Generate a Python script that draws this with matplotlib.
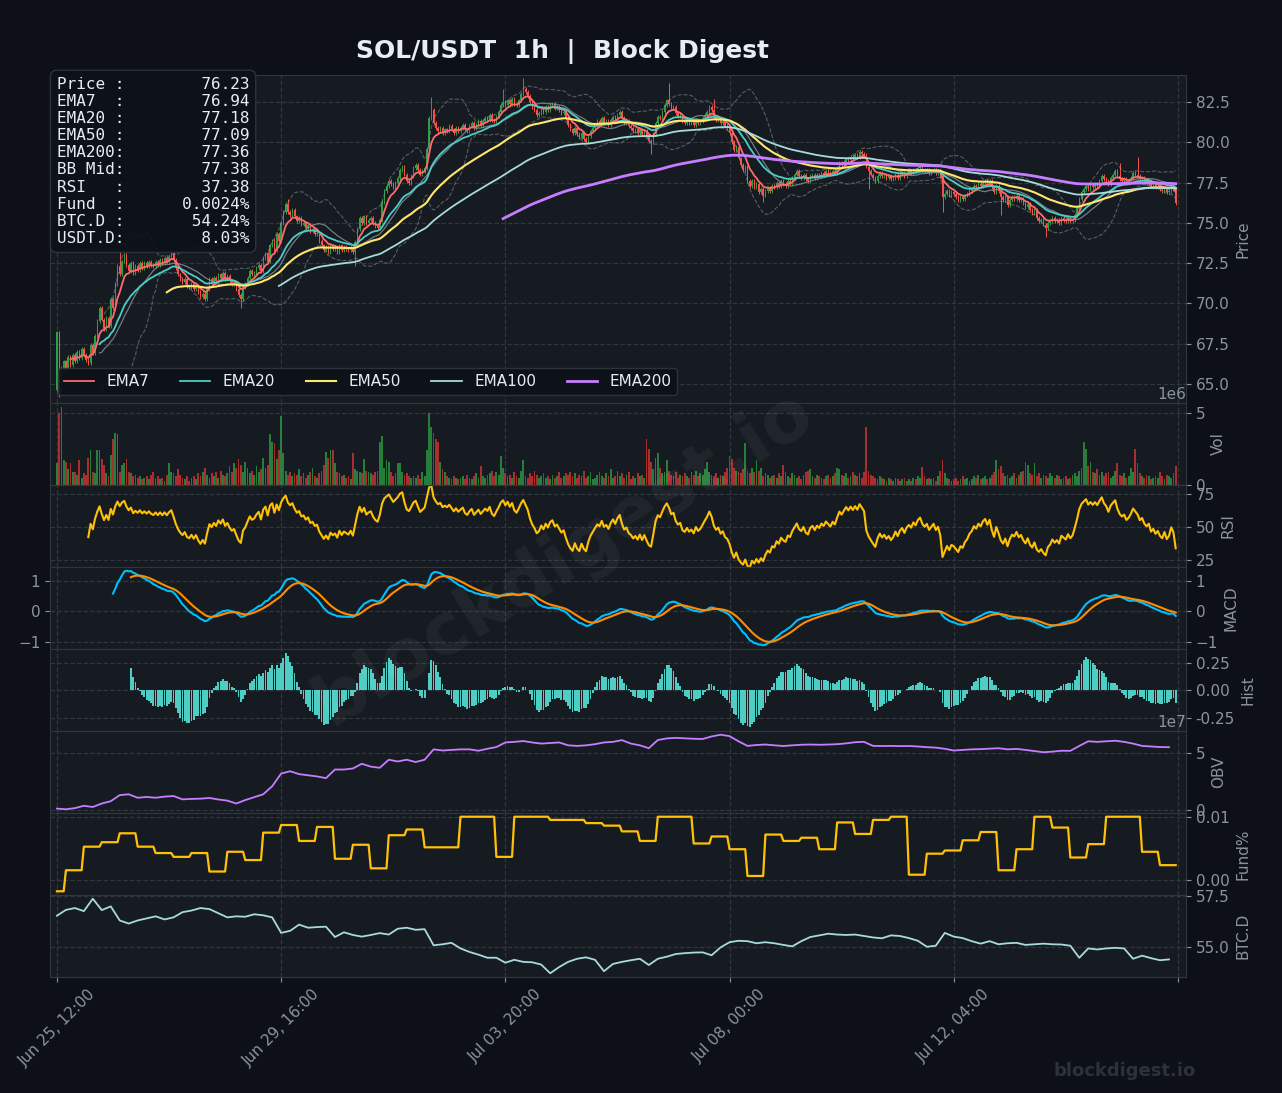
import numpy as np
import pandas as pd
import matplotlib
matplotlib.use("Agg")
import matplotlib.pyplot as plt

# ---- data (hourly SOL/USDT) ----
start_time = "2025-06-25 12:00"
first_open = 64.6
closes = [
    68.2, 64.6, 66.0, 66.4, 66.0, 66.7, 66.2, 66.8, 66.4, 67.0,
    66.6, 67.2, 66.8, 66.5, 66.3, 67.4, 66.9, 68.0, 68.9, 69.7,
    69.0, 68.4, 69.1, 68.6, 70.3, 69.7, 71.2, 72.3, 71.8, 72.6,
    73.0, 72.4, 72.0, 72.5, 71.9, 72.3, 72.1, 72.5, 72.2, 72.5,
    72.3, 72.6, 72.4, 72.3, 72.6, 72.4, 72.7, 72.5, 72.8, 72.6,
    72.9, 73.1, 72.7, 72.2, 71.8, 71.5, 71.3, 71.5, 71.1, 71.0,
    71.2, 70.9, 71.1, 70.7, 70.4, 70.6, 70.3, 70.9, 71.5, 71.3,
    71.6, 71.4, 71.8, 71.6, 71.9, 71.5, 71.7, 71.4, 71.2, 71.3,
    70.9, 70.5, 70.3, 71.0, 71.2, 71.6, 72.0, 71.8, 71.9, 72.2,
    72.4, 72.0, 72.8, 73.1, 72.6, 73.6, 73.9, 73.3, 74.3, 73.9,
    75.0, 75.7, 76.2, 75.7, 75.5, 75.8, 75.4, 75.1, 75.3, 74.9,
    75.0, 74.7, 74.9, 74.5, 74.6, 74.3, 74.4, 73.9, 73.6, 73.3,
    73.5, 73.2, 73.6, 73.4, 73.5, 73.2, 73.6, 73.3, 73.5, 73.4,
    73.3, 73.5, 73.2, 73.8, 74.6, 75.3, 75.0, 75.4, 75.0, 75.2,
    75.3, 75.0, 74.8, 74.7, 75.2, 76.3, 77.0, 77.3, 77.6, 77.4,
    77.2, 77.5, 77.8, 78.3, 78.5, 78.0, 77.6, 77.5, 77.9, 78.4,
    78.6, 78.3, 78.0, 78.2, 78.4, 79.6, 81.5, 82.0, 81.2, 80.9,
    80.7, 80.9, 80.6, 80.8, 80.7, 81.0, 80.8, 80.6, 80.9, 80.7,
    80.9, 81.1, 80.8, 80.7, 81.0, 81.2, 80.9, 81.1, 81.3, 81.1,
    81.3, 81.5, 81.4, 81.7, 81.4, 81.3, 81.6, 81.9, 82.3, 82.5,
    82.3, 82.6, 82.4, 82.7, 82.4, 82.3, 82.6, 83.0, 83.3, 83.1,
    82.9, 82.5, 82.2, 82.0, 81.7, 81.8, 82.1, 81.9, 82.2, 82.0,
    82.3, 82.4, 82.1, 82.2, 82.0, 81.8, 81.9, 81.5, 81.1, 80.8,
    80.6, 80.9, 80.5, 80.3, 80.6, 80.2, 80.0, 80.4, 80.7, 80.9,
    81.1, 81.3, 81.2, 81.5, 81.2, 81.3, 81.1, 81.4, 81.6, 81.4,
    81.7, 81.9, 81.5, 81.2, 81.3, 81.0, 80.9, 80.7, 80.8, 80.6,
    80.8, 80.5, 80.7, 80.4, 80.1, 80.0, 80.5, 81.2, 81.6, 81.5,
    81.9, 82.3, 82.6, 82.4, 82.1, 82.2, 81.8, 81.6, 81.7, 81.3,
    81.2, 81.4, 81.2, 81.3, 81.1, 81.4, 81.2, 81.3, 81.5, 81.7,
    81.9, 82.2, 82.0, 81.6, 81.4, 81.5, 81.2, 81.3, 81.0, 80.9,
    80.6, 80.0, 79.5, 79.7, 79.0, 78.6, 78.3, 78.5, 77.6, 77.3,
    77.6, 77.2, 77.4, 76.9, 77.1, 76.7, 77.0, 77.2, 77.0, 77.3,
    77.2, 77.5, 77.3, 77.6, 77.4, 77.3, 77.6, 77.5, 77.8, 78.0,
    78.2, 77.9, 77.8, 78.0, 77.7, 77.6, 77.9, 78.0, 77.8, 78.0,
    77.9, 78.1, 78.0, 78.2, 78.1, 78.0, 78.2, 78.1, 78.4, 78.7,
    78.6, 78.8, 79.0, 78.9, 79.1, 79.0, 79.2, 79.1, 79.4, 79.3,
    79.2, 78.5, 78.2, 78.0, 77.8, 77.6, 77.9, 78.1, 77.9, 78.0,
    77.8, 77.9, 77.7, 77.8, 78.0, 77.8, 78.0, 78.1, 77.9, 78.1,
    78.2, 78.1, 78.3, 78.2, 78.4, 78.5, 78.3, 78.2, 78.3, 78.1,
    78.2, 78.3, 78.1, 78.2, 77.9, 76.6, 76.8, 77.0, 76.7, 76.9,
    76.8, 76.6, 76.4, 76.6, 76.5, 76.7, 76.8, 77.0, 77.1, 77.3,
    77.2, 77.4, 77.3, 77.5, 77.6, 77.4, 77.6, 77.2, 76.9, 77.3,
    77.0, 76.6, 76.4, 76.6, 76.1, 76.4, 76.6, 76.5, 76.7, 76.4,
    76.5, 76.2, 76.0, 76.2, 75.8, 75.6, 75.8, 75.3, 75.1, 75.2,
    74.9, 74.7, 75.0, 75.1, 75.3, 75.1, 75.2, 75.0, 75.3, 75.2,
    75.1, 75.3, 75.1, 75.2, 75.5, 75.9, 76.5, 76.9, 77.1, 77.3,
    77.1, 77.3, 77.2, 77.4, 77.3, 77.6, 77.9, 77.7, 77.6, 77.4,
    77.8, 78.0, 78.2, 77.9, 77.7, 77.6, 77.7, 77.5, 77.6, 77.8,
    78.1, 78.0, 77.9, 77.7, 77.8, 77.6, 77.5, 77.6, 77.3, 77.4,
    77.2, 77.3, 77.1, 77.0, 77.2, 76.9, 77.0, 77.3, 77.1, 76.23,
]
# notable wick extremes (index: price)
wick_highs = {28: 73.3, 103: 76.5, 167: 82.8, 199: 83.3, 208: 84.0, 273: 83.7, 293: 82.7, 474: 78.7, 482: 79.1}
wick_lows = {1: 64.2, 82: 69.7, 133: 72.3, 236: 79.9, 265: 79.3, 315: 76.3, 362: 77.1, 395: 75.7, 421: 75.5, 441: 74.1}

# volume in millions
volume_m = [
    1.5, 5.0, 5.4, 1.7, 1.6, 1.1, 1.5, 0.9, 0.9, 0.7,
    1.7, 0.5, 0.8, 0.7, 1.9, 2.4, 0.9, 0.8, 2.4, 2.45,
    1.8, 1.4, 0.8, 0.6, 2.1, 3.2, 3.6, 3.5, 0.9, 1.4,
    1.5, 1.8, 0.9, 0.8, 0.6, 0.7, 0.5, 0.6, 0.4, 0.5,
    0.6, 0.4, 0.7, 0.9, 0.5, 0.6, 0.4, 0.5, 0.3, 0.7,
    1.5, 0.9, 0.8, 0.6, 1.1, 0.7, 0.5, 0.4, 0.6, 0.3,
    0.5, 0.6, 0.4, 0.8, 0.6, 0.9, 1.2, 0.7, 0.5, 0.8,
    0.6, 0.9, 0.5, 1.0, 0.7, 0.6, 0.8, 1.3, 0.9, 1.5,
    1.2, 1.8, 1.4, 0.9, 1.6, 1.2, 0.8, 1.0, 0.7, 1.3,
    0.9, 1.1, 1.9, 1.2, 1.4, 3.5, 3.0, 2.9, 1.8, 2.4,
    4.75, 2.2, 1.0, 0.7, 0.9, 0.6, 0.8, 0.7, 1.1, 0.6,
    0.8, 0.5, 0.7, 0.9, 1.2, 0.6, 0.5, 0.8, 1.0, 1.4,
    2.3, 1.9, 2.4, 2.4, 1.5, 0.9, 0.8, 0.6, 0.7, 0.5,
    0.6, 0.4, 2.2, 1.1, 1.0, 0.9, 0.8, 1.8, 1.0, 0.9,
    0.8, 0.7, 0.9, 1.0, 3.0, 3.4, 1.2, 1.75, 1.6, 0.9,
    0.6, 0.8, 1.5, 1.5, 0.9, 0.7, 0.8, 0.6, 0.5, 0.6,
    0.5, 0.7, 0.4, 0.9, 0.6, 2.4, 5.0, 4.0, 3.6, 3.2,
    3.0, 1.6, 1.1, 0.9, 0.6, 0.5, 0.4, 0.6, 0.5, 0.4,
    0.5, 0.6, 0.4, 0.7, 0.5, 0.4, 0.6, 0.8, 0.5, 1.3,
    0.6, 0.5, 0.7, 0.8, 1.0, 0.6, 0.9, 0.7, 2.0, 1.2,
    0.8, 0.6, 0.7, 0.5, 0.9, 0.6, 0.5, 1.0, 1.7, 0.6,
    0.5, 0.8, 0.6, 1.0, 0.7, 0.5, 0.6, 0.8, 0.5, 0.6,
    0.4, 0.7, 0.5, 0.6, 0.9, 0.5, 0.6, 0.8, 0.7, 0.9,
    0.6, 0.8, 0.5, 0.7, 0.6, 1.0, 0.5, 0.6, 0.9, 0.4,
    0.5, 0.7, 0.9, 0.6, 0.5, 0.8, 0.6, 1.1, 0.5, 0.6,
    1.0, 0.6, 0.8, 0.5, 0.7, 0.9, 0.4, 0.6, 0.5, 0.8,
    0.6, 0.7, 0.5, 3.2, 2.5, 1.6, 1.1, 1.9, 2.2, 1.2,
    0.8, 0.9, 1.75, 1.0, 0.7, 0.6, 0.9, 0.5, 0.7, 0.6,
    0.8, 0.6, 0.5, 0.9, 0.7, 1.0, 0.6, 0.8, 0.7, 1.1,
    1.6, 0.9, 0.7, 0.6, 0.8, 0.5, 0.7, 0.6, 0.9, 1.2,
    2.0, 1.8, 1.2, 1.0, 0.9, 0.8, 1.1, 2.9, 1.0, 0.8,
    1.2, 0.9, 1.75, 1.0, 1.2, 0.6, 0.8, 0.7, 0.5, 0.6,
    0.7, 0.5, 0.8, 0.6, 1.4, 0.9, 0.6, 0.5, 0.8, 0.7,
    0.5, 0.6, 0.4, 0.7, 0.9, 1.0, 1.1, 0.6, 0.5, 0.7,
    0.6, 0.5, 0.4, 0.6, 0.7, 0.5, 0.6, 0.8, 1.2, 1.1,
    0.7, 0.6, 0.8, 0.5, 0.6, 0.9, 0.7, 0.6, 0.8, 0.5,
    0.9, 4.0, 1.0, 0.7, 0.6, 0.5, 0.4, 0.6, 0.5, 0.4,
    0.3, 0.5, 0.4, 0.3, 0.5, 0.4, 0.3, 0.4, 0.5, 0.3,
    0.4, 0.3, 0.5, 0.4, 0.6, 0.5, 1.25, 0.6, 0.4, 0.5,
    0.4, 0.5, 0.3, 0.6, 1.0, 1.75, 0.8, 0.5, 0.4, 0.3,
    0.4, 0.5, 0.3, 0.4, 0.6, 0.4, 0.5, 0.3, 0.4, 0.6,
    0.5, 0.7, 0.4, 0.5, 0.6, 0.4, 0.5, 0.7, 0.9, 1.75,
    1.1, 1.3, 0.8, 0.6, 0.7, 0.5, 0.6, 0.8, 0.5, 0.7,
    0.9, 1.0, 1.6, 1.4, 0.8, 0.7, 1.5, 0.6, 0.8, 0.5,
    0.7, 0.6, 0.5, 0.8, 0.6, 0.5, 0.7, 0.6, 0.4, 0.5,
    0.6, 0.4, 0.5, 0.7, 0.8, 0.6, 1.0, 1.2, 3.0, 2.5,
    1.3, 1.6, 0.9, 0.8, 1.1, 0.7, 0.9, 0.6, 0.8, 0.9,
    0.5, 0.6, 1.0, 1.5, 0.7, 0.6, 0.8, 0.5, 0.6, 1.2,
    0.9, 2.5, 1.5, 0.8, 0.6, 0.5, 0.7, 0.6, 0.4, 0.5,
    0.6, 0.5, 0.9, 0.6, 0.4, 0.7, 0.6, 0.5, 0.8, 1.3,
]

# OBV (x1e7) every 4 hours
obv_4h = [
    0.16, 0.10, 0.20, 0.40, 0.30, 0.60, 0.80, 1.33, 1.40, 1.10,
    1.17, 1.10, 1.20, 1.25, 0.96, 1.00, 1.02, 1.08, 0.95, 0.85,
    0.60, 0.90, 1.15, 1.40, 2.10, 3.20, 3.40, 3.15, 3.05, 2.95,
    2.80, 3.55, 3.55, 3.64, 4.05, 3.80, 3.70, 4.40, 4.25, 4.40,
    4.20, 4.40, 5.30, 5.20, 5.25, 5.30, 5.30, 5.18, 5.35, 5.50,
    5.90, 5.95, 6.02, 5.90, 5.80, 5.85, 5.90, 5.65, 5.60, 5.65,
    5.75, 5.90, 5.95, 6.10, 5.80, 5.65, 5.40, 6.11, 6.25, 6.30,
    6.26, 6.22, 6.20, 6.42, 6.57, 6.45, 6.00, 5.60, 5.68, 5.72,
    5.65, 5.59, 5.65, 5.70, 5.72, 5.70, 5.72, 5.75, 5.82, 5.92,
    5.95, 5.60, 5.59, 5.60, 5.58, 5.59, 5.55, 5.49, 5.45, 5.35,
    5.20, 5.25, 5.30, 5.32, 5.36, 5.40, 5.30, 5.34, 5.25, 5.15,
    5.05, 5.10, 5.18, 5.17, 5.60, 6.00, 5.95, 6.00, 6.05, 5.95,
    5.80, 5.60, 5.55, 5.50, 5.49,
]

# BTC dominance (%) every 4 hours
btcd_4h = [
    56.53, 56.81, 56.90, 56.75, 57.35, 56.80, 56.98, 56.30, 56.15, 56.30,
    56.40, 56.50, 56.35, 56.45, 56.70, 56.78, 56.90, 56.85, 56.65, 56.45,
    56.50, 56.48, 56.60, 56.55, 56.45, 55.70, 55.80, 56.10, 55.95, 55.98,
    56.00, 55.50, 55.73, 55.60, 55.52, 55.60, 55.69, 55.62, 55.90, 55.95,
    55.85, 55.88, 55.10, 55.15, 55.22, 54.95, 54.78, 54.65, 54.50, 54.50,
    54.26, 54.40, 54.30, 54.28, 54.17, 53.75, 54.05, 54.30, 54.45, 54.52,
    54.40, 53.85, 54.20, 54.30, 54.38, 54.45, 54.15, 54.45, 54.55, 54.68,
    54.72, 54.75, 54.76, 54.62, 55.00, 55.25, 55.32, 55.30, 55.20, 55.25,
    55.20, 55.12, 55.05, 55.30, 55.50, 55.58, 55.66, 55.62, 55.60, 55.62,
    55.55, 55.48, 55.44, 55.58, 55.55, 55.45, 55.32, 55.03, 55.08, 55.70,
    55.52, 55.45, 55.30, 55.18, 55.30, 55.15, 55.20, 55.22, 55.12, 55.15,
    55.18, 55.15, 55.14, 55.08, 54.50, 54.95, 54.90, 54.95, 54.98, 54.95,
    54.45, 54.60, 54.48, 54.38, 54.42,
]

# funding rate (%) per 8h period, first period is 4h long
funding_8h = [
    -0.0017, 0.0016, 0.0053, 0.0060, 0.0074, 0.0053, 0.0043, 0.0037, 0.0043, 0.0014,
    0.0045, 0.0032, 0.0075, 0.0087, 0.0062, 0.0084, 0.0034, 0.0056, 0.0019, 0.0071,
    0.0080, 0.0052, 0.0052, 0.0100, 0.0100, 0.0037, 0.0100, 0.0100, 0.0095, 0.0095,
    0.0090, 0.0086, 0.0077, 0.0062, 0.0100, 0.0100, 0.0058, 0.0069, 0.0049, 0.0007,
    0.0072, 0.0062, 0.0067, 0.0049, 0.0091, 0.0073, 0.0095, 0.0100, 0.0009, 0.0042,
    0.0047, 0.0063, 0.0076, 0.0016, 0.0049, 0.0100, 0.0083, 0.0036, 0.0057, 0.0100,
    0.0100, 0.0045, 0.0024,
]

info_labels = ["Price :", "EMA7  :", "EMA20 :", "EMA50 :", "EMA200:", "BB Mid:",
               "RSI   :", "Fund  :", "BTC.D :", "USDT.D:"]
info_values = ["76.23", "76.94", "77.18", "77.09", "77.36", "77.38",
               "37.38", "0.0024%", "54.24%", "8.03%"]

# ---- colours ----
BG = "#0d1117"
PANEL = "#161b22"
EDGE = "#30363d"
MUTED = "#8b949e"
TXT = "#e6edf3"
UP = "#2ea043"
DOWN = "#f85149"

# ---- indicators ----
n = len(closes)
x = np.arange(n)
dates = pd.date_range(start_time, periods=n, freq="h")
close = pd.Series(closes, dtype=float)
opn = close.shift(1).fillna(first_open)
hi = np.maximum(opn, close) + 0.12
lo = np.minimum(opn, close) - 0.12
for k, v in wick_highs.items():
    hi[k] = v
for k, v in wick_lows.items():
    lo[k] = v
up = (close >= opn).values


def ema(s, span):
    return s.ewm(span=span, adjust=False, min_periods=span).mean()


emas = {p: ema(close, p) for p in (7, 20, 50, 100, 200)}
bb_mid = close.rolling(20).mean()
bb_std = close.rolling(20).std()
bb_up = bb_mid + 2 * bb_std
bb_lo = bb_mid - 2 * bb_std

delta = close.diff()
gain = delta.clip(lower=0).ewm(com=13, min_periods=14).mean()
loss = (-delta.clip(upper=0)).ewm(com=13, min_periods=14).mean()
rsi = 100 - 100 / (1 + gain / loss)

macd = ema(close, 12) - ema(close, 26)
signal = macd.ewm(span=9, adjust=False, min_periods=9).mean()
hist = macd - signal

vol = np.array(volume_m) * 1e6
x4 = np.arange(0, n, 4)[:len(obv_4h)]
obv = np.array(obv_4h) * 1e7
btcd = np.array(btcd_4h)
fund = np.concatenate([[funding_8h[0]] * 4, np.repeat(funding_8h[1:], 8)])[:n]

# ---- figure ----
fig = plt.figure(figsize=(12.82, 10.93), dpi=100, facecolor=BG)
gs = fig.add_gridspec(8, 1, height_ratios=[4, 1, 1, 1, 1, 1, 1, 1],
                      left=50 / 1282, right=1186 / 1282,
                      top=1 - 75 / 1093, bottom=1 - 977 / 1093, hspace=0)
axes = [fig.add_subplot(gs[0])]
for i in range(1, 8):
    axes.append(fig.add_subplot(gs[i], sharex=axes[0]))
ax_p, ax_v, ax_r, ax_m, ax_h, ax_o, ax_f, ax_b = axes

for ax in axes:
    ax.set_facecolor(PANEL)
    for s in ax.spines.values():
        s.set_color(EDGE)
    ax.yaxis.tick_right()
    ax.yaxis.set_label_position("right")
    ax.tick_params(colors=MUTED, labelsize=11)
    ax.yaxis.get_offset_text().set_color(MUTED)
    ax.yaxis.get_offset_text().set_fontsize(11)
    ax.grid(True, color=EDGE, ls="--", lw=0.9)
    ax.set_axisbelow(True)
    if ax is not ax_b:
        ax.tick_params(axis="x", bottom=False, labelbottom=False)

# price
ax_p.vlines(x, lo, hi, colors=np.where(up, UP, DOWN), lw=0.7, zorder=2)
ax_p.bar(x, (close - opn).values, bottom=opn.values, width=0.6,
         color=np.where(up, UP, DOWN), lw=0, zorder=3)
ax_p.plot(x, bb_up, color=MUTED, ls="--", lw=0.8, alpha=0.55, zorder=4)
ax_p.plot(x, bb_lo, color=MUTED, ls="--", lw=0.8, alpha=0.55, zorder=4)
ax_p.plot(x, bb_mid, color=MUTED, lw=0.9, alpha=0.8, zorder=4)
ema_style = {7: ("#ff6b6b", 1.3), 20: ("#4ecdc4", 1.3), 50: ("#ffe66d", 1.5),
             100: ("#a8dadc", 1.3), 200: ("#c77dff", 2.0)}
for p, (c, lw) in ema_style.items():
    ax_p.plot(x, emas[p], color=c, lw=lw, label=f"EMA{p}", zorder=5)
ax_p.set_ylim(63.82, 84.18)
ax_p.set_yticks(np.arange(65, 83, 2.5))
ax_p.set_ylabel("Price", color=MUTED, fontsize=11)
leg = ax_p.legend(loc="lower left", ncol=5, fontsize=11, facecolor=BG,
                  edgecolor=EDGE, framealpha=0.9, labelcolor=TXT)

info = "\n".join(f"{a}{b:>13}" for a, b in zip(info_labels, info_values))
ax_p.text(0.006, 0.995, info, transform=ax_p.transAxes, va="top", ha="left",
          family="DejaVu Sans Mono", fontsize=11.5, color=TXT, linespacing=1.18,
          zorder=10,
          bbox=dict(boxstyle="round,pad=0.4", fc=BG, ec=EDGE, alpha=0.9))

# volume
ax_v.bar(x, vol, width=0.8, color=np.where(up, UP, "#da3633"), alpha=0.75, lw=0)
ax_v.set_yticks([0, 5e6])
ax_v.set_ylabel("Vol", color=MUTED, fontsize=11)

# rsi
ax_r.plot(x, rsi, color="#ffc107", lw=1.5)
ax_r.set_ylim(19.6, 82)
ax_r.set_yticks([25, 50, 75])
ax_r.set_ylabel("RSI", color=MUTED, fontsize=11)

# macd
ax_m.plot(x, macd, color="#00bfff", lw=1.5)
ax_m.plot(x, signal, color="#ff8c00", lw=1.5)
ax_m.set_yticks([-1, 0, 1])
ax_m.tick_params(axis="y", left=True, labelleft=True)
ax_m.set_ylabel("MACD", color=MUTED, fontsize=11)

# hist
ax_h.bar(x, hist, width=0.8, color="#4ecdc4", lw=0)
ax_h.set_yticks([-0.25, 0, 0.25])
ax_h.yaxis.set_major_formatter(plt.FormatStrFormatter("%.2f"))
ax_h.set_ylabel("Hist", color=MUTED, fontsize=11)

# obv
ax_o.plot(x4, obv, color="#c77dff", lw=1.3)
ax_o.set_yticks([0, 5e7])
ax_o.set_ylabel("OBV", color=MUTED, fontsize=11)

# funding
ax_f.plot(x, fund, color="#ffc107", lw=1.6)
ax_f.set_yticks([0, 0.01])
ax_f.yaxis.set_major_formatter(plt.FormatStrFormatter("%.2f"))
ax_f.set_ylabel("Fund%", color=MUTED, fontsize=11)

# btc dominance
ax_b.plot(x4, btcd, color="#a8dadc", lw=1.3)
ax_b.set_yticks([55.0, 57.5])
ax_b.yaxis.set_major_formatter(plt.FormatStrFormatter("%.1f"))
ax_b.set_ylabel("BTC.D", color=MUTED, fontsize=11)

ticks = np.arange(0, n + 1, 100)
labels = [dates[t].strftime("%b %d, %H:%M") if t < n else "" for t in ticks]
ax_b.set_xticks(ticks)
ax_b.set_xticklabels(labels, rotation=45, ha="center")
ax_b.set_xlim(-3.1, 503.6)

fig.text(562 / 1282, 1 - 52 / 1093, "SOL/USDT  1h  |  Block Digest", ha="center",
         va="center", fontsize=18, fontweight="bold", color=TXT)
fig.text(0.44, 0.49, "blockdigest.io", ha="center", va="center", rotation=32,
         fontsize=52, fontweight="bold", color="white", alpha=0.05)
fig.text(1125 / 1282, 1 - 1071 / 1093, "blockdigest.io", ha="center", va="center",
         fontsize=13, fontweight="bold", color=EDGE, alpha=0.9)

fig.savefig("out.png", dpi=100, facecolor=BG)
